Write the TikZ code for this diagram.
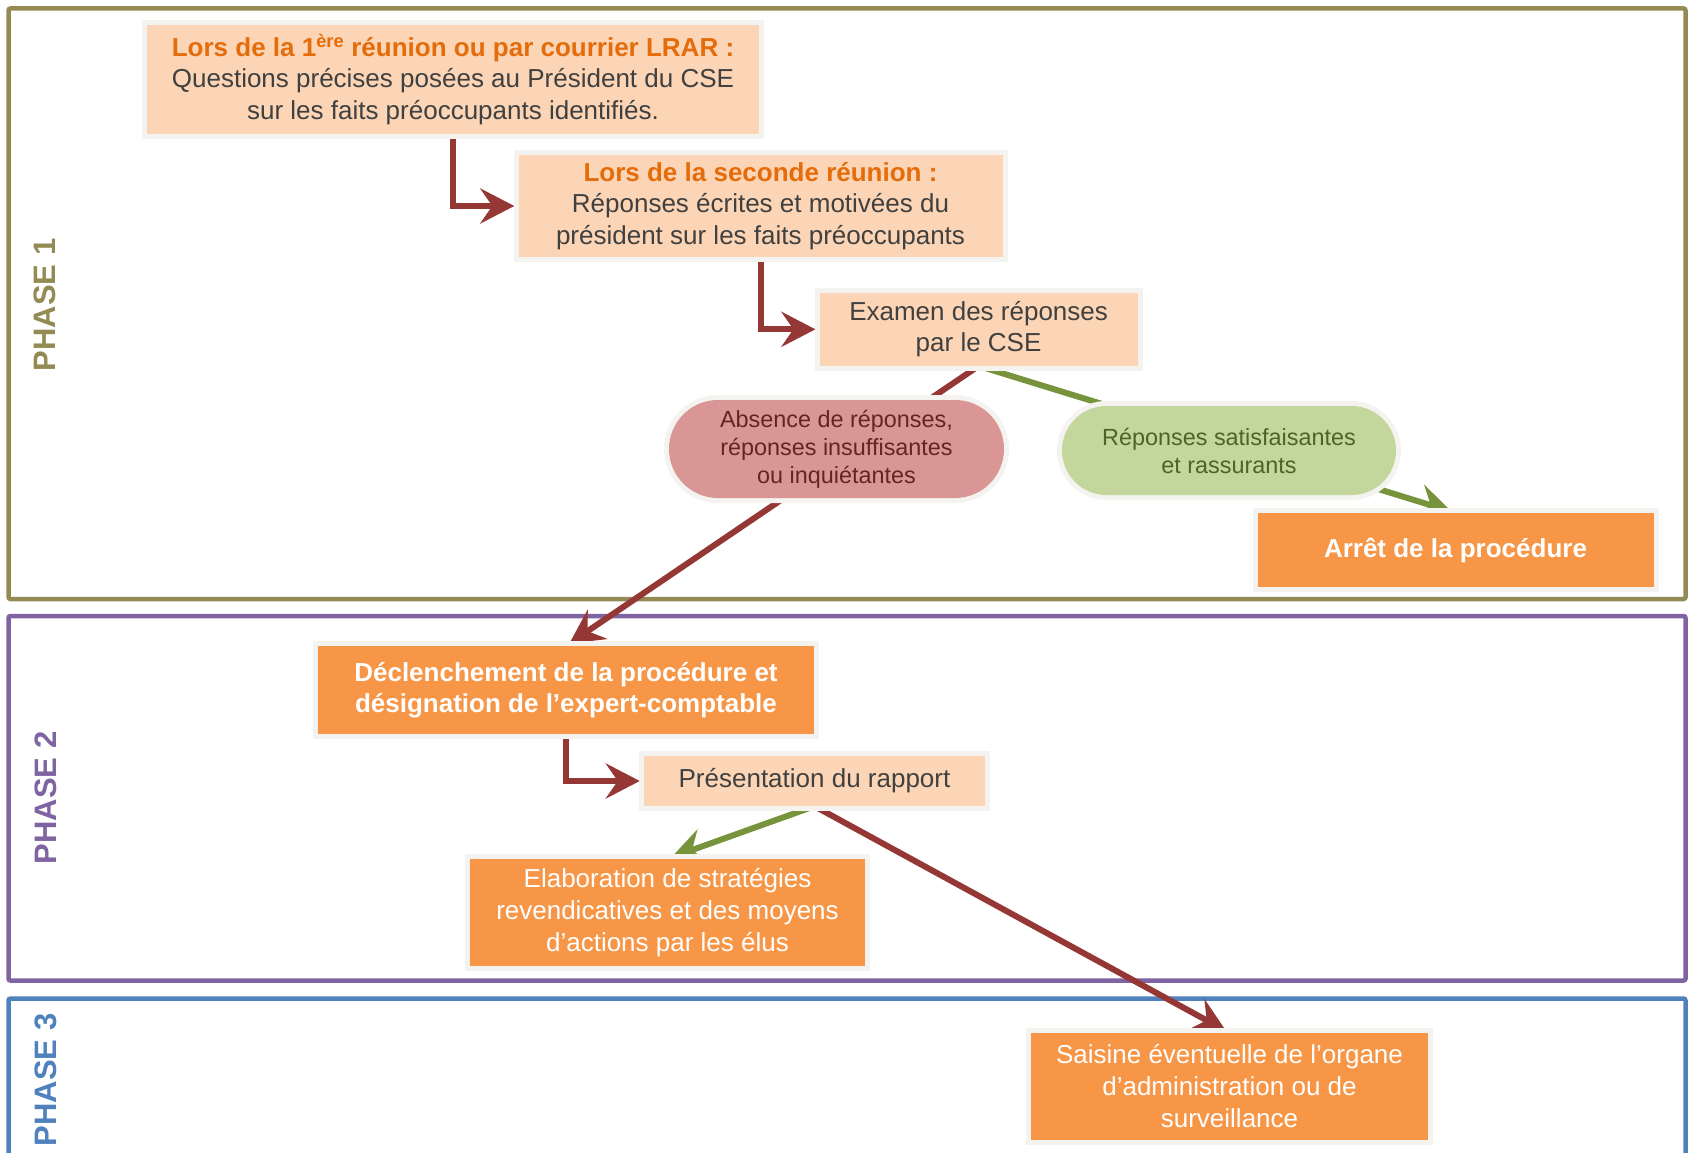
\documentclass[tikz,border=0pt]{standalone}
\usepackage{fontspec}
\setmainfont{Liberation Sans}
\usetikzlibrary{arrows.meta,calc}
\definecolor{peach}{HTML}{FBD5B5}
\definecolor{orangebx}{HTML}{F79646}
\definecolor{titleor}{HTML}{E46C0A}
\definecolor{txtgray}{HTML}{404040}
\definecolor{redln}{HTML}{953735}
\definecolor{greenln}{HTML}{77933C}
\definecolor{redfill}{HTML}{D99694}
\definecolor{redtxt}{HTML}{632523}
\definecolor{greenfill}{HTML}{C3D69B}
\definecolor{greentxt}{HTML}{4F6228}
\definecolor{olivefr}{HTML}{948A54}
\definecolor{purplefr}{HTML}{8064A2}
\definecolor{bluefr}{HTML}{4F81BD}
\definecolor{glowc}{HTML}{F4F3EF}
\pgfdeclarelayer{frames}
\pgfdeclarelayer{bg}
\pgfsetlayers{frames,bg,main}
\begin{document}
\begin{tikzpicture}[x=1pt,y=-1pt,
  box/.style={rectangle, inner sep=0pt, align=center,
    preaction={draw=glowc, line width=10pt},
    font=\fontsize{26}{31.5}\selectfont},
  peachbox/.style={box, fill=peach, text=txtgray},
  orangebox/.style={box, fill=orangebx, text=white},
  pill/.style={rectangle, inner sep=0pt, align=center,
    preaction={draw=glowc, line width=10pt},
    font=\fontsize{23.4}{28}\selectfont},
  frame/.style={line width=4.5pt, rounded corners=2pt},
  phaselbl/.style={rotate=90, font=\bfseries\fontsize{31}{31}\selectfont},
  arr/.style={line width=6pt, line join=miter,
    -{Stealth[length=34pt,width=35pt,inset=12pt]}, shorten >=4pt},
  redarr/.style={arr, draw=redln},
  greenarr/.style={arr, draw=greenln}
]
\useasboundingbox (0,0) rectangle (1692,1153);

% phase frames
\begin{pgfonlayer}{frames}
\draw[frame, draw=olivefr] (8.5,8.5) rectangle (1685.5,599);
\draw[frame, draw=purplefr] (8.5,616) rectangle (1685.5,980.5);
\draw[frame, draw=bluefr] (8.5,998.5) rectangle (1685.5,1200);
\end{pgfonlayer}

\node[phaselbl, text=olivefr] (ph1) at (45,305) {PHASE 1};
\node[phaselbl, text=purplefr] (ph2) at (46,798) {PHASE 2};
\node[phaselbl, text=bluefr] (ph3) at (46,1080) {PHASE 3};

% nodes
\node[peachbox, minimum width=612pt, minimum height=109pt] (b1) at (453,79.5)
  {\textcolor{titleor}{\bfseries Lors de la 1\textsuperscript{ère} réunion ou par courrier LRAR :}\\
   Questions précises posées au Président du CSE\\
   sur les faits préoccupants identifiés.};
\node[peachbox, minimum width=484pt, minimum height=102pt] (b2) at (760.5,206)
  {\textcolor{titleor}{\bfseries Lors de la seconde réunion :}\\
   Réponses écrites et motivées du\\
   président sur les faits préoccupants};
\node[peachbox, minimum width=318pt, minimum height=73pt] (b3) at (978.6,329.3)
  {Examen des réponses\\par le CSE};
\node[pill, fill=redfill, text=redtxt, rounded corners=49pt,
  minimum width=335pt, minimum height=98pt] (neg) at (836.5,449)
  {Absence de réponses,\\réponses insuffisantes\\ou inquiétantes};
\node[pill, fill=greenfill, text=greentxt, rounded corners=44.5pt,
  minimum width=334pt, minimum height=89pt] (pos) at (1229,450.5)
  {Réponses satisfaisantes\\et rassurants};
\node[orangebox, minimum width=396pt, minimum height=74pt, font=\bfseries\fontsize{26}{31.5}\selectfont] (stop) at (1455.5,550)
  {Arrêt de la procédure};
\node[orangebox, minimum width=496pt, minimum height=88pt, font=\bfseries\fontsize{26}{31.5}\selectfont] (decl) at (566,690)
  {Déclenchement de la procédure et\\désignation de l’expert-comptable};
\node[peachbox, minimum width=341pt, minimum height=50pt] (pres) at (814.5,781)
  {Présentation du rapport};
\node[orangebox, minimum width=395pt, minimum height=107pt, font=\fontsize{26}{32}\selectfont] (elab) at (667.5,912.5)
  {Elaboration de stratégies\\revendicatives et des moyens\\d’actions par les élus};
\node[orangebox, minimum width=397pt, minimum height=107pt, font=\fontsize{26}{32}\selectfont] (sais) at (1229.5,1086.5)
  {Saisine éventuelle de l’organe\\d’administration ou de\\surveillance};

% connectors
\begin{pgfonlayer}{bg}
\draw[redarr] (b1.south) |- (b2.west);
\draw[redarr] (b2.south) |- (b3.west);
\draw[redarr] (b3.south) -- (decl.north);
\draw[greenarr] (b3.south) -- (stop.north);
\draw[redarr] (decl.south) |- (pres.west);
\draw[greenarr] (pres.south) -- (elab.north);
\draw[redarr] (pres.south) -- (sais.north);
\end{pgfonlayer}
\end{tikzpicture}
\end{document}
